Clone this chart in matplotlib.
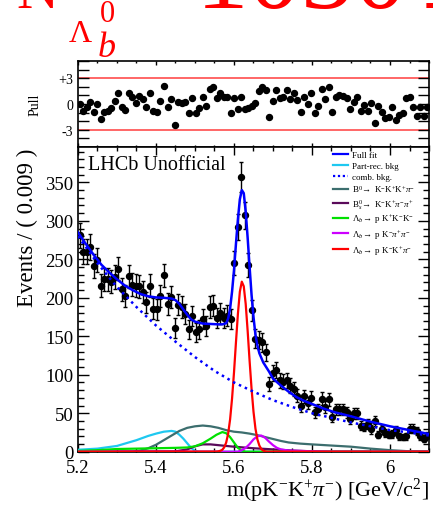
import numpy as np
import matplotlib
matplotlib.use("Agg")
import matplotlib.pyplot as plt
from matplotlib.ticker import MultipleLocator, FixedLocator
from matplotlib.lines import Line2D

plt.rcParams['font.family'] = ['Liberation Serif', 'DejaVu Serif']
plt.rcParams['mathtext.fontset'] = 'custom'
plt.rcParams['mathtext.rm'] = 'Liberation Serif'
plt.rcParams['mathtext.it'] = 'Liberation Serif:italic'
plt.rcParams['mathtext.bf'] = 'Liberation Serif:bold'

# binning: 100 bins of 0.009 GeV from 5.2 to 6.1
x_lo, x_hi, n_bins = 5.2, 6.1, 100

counts = [281, 260, 260, 266, 241, 249, 216, 224, 224, 221,
          227, 238, 211, 202, 228, 217, 216, 215, 208, 194,
          216, 186, 185, 202, 229, 192, 201, 161, 191, 188,
          179, 159, 176, 155, 159, 172, 163, 188, 190, 174,
          180, 174, 177, 172, 245, 292, 357, 307, 243, 184,
          147, 145, 142, 129, 88, 102, 106, 93, 91, 93,
          86, 82, 73, 59, 72, 63, 70, 51, 55, 69,
          58, 68, 45, 55, 55, 55, 51, 43, 50, 50,
          34, 32, 36, 29, 40, 22, 29, 24, 22, 23,
          28, 20, 19, 20, 30, 30, 27, 20, 17, 21]

pulls = [0.0, -0.78, -0.31, 0.27, -0.89, 0.0, -1.79, -0.97, -0.78, -0.43,
         0.31, 1.32, -0.31, -0.70, 1.32, 0.86, 0.08, 0.93, 0.58, -0.39,
         1.32, -0.82, -0.97, 0.35, 2.14, -0.31, 0.54, -2.45, 0.27, 0.08,
         0.23, -1.09, 0.66, -1.01, -0.51, 0.78, -0.19, 1.75, 1.95, 0.74,
         1.32, 0.86, 0.86, -1.09, 0.66, -0.58, 0.86, -0.58, -0.43, -0.23,
         0.08, 1.52, 2.02, 1.63, -1.48, 0.39, 1.63, 0.74, 0.86, 1.63,
         0.62, 1.25, 0.43, -0.97, 0.86, -0.04, 1.25, -1.01, -0.23, 1.75,
         0.54, 1.95, -0.97, 0.86, 1.01, 0.97, 0.74, -0.54, 0.19, 0.82,
         -0.82, -0.12, -0.82, 0.16, -2.26, -0.23, -0.89, -1.67, -1.48, -0.39,
         -1.87, -1.28, -1.09, 0.66, 0.78, -0.31, -1.40, -0.31, -1.40, -0.31]

# fit curves
full_x = [5.20, 5.22, 5.24, 5.26, 5.28, 5.30, 5.32, 5.34, 5.36, 5.38,
          5.40, 5.42, 5.44, 5.45, 5.46, 5.47, 5.48, 5.49, 5.50, 5.52,
          5.54, 5.56, 5.57, 5.58, 5.585, 5.59, 5.595, 5.60, 5.605, 5.61,
          5.615, 5.62, 5.625, 5.63, 5.635, 5.64, 5.645, 5.65, 5.655, 5.66,
          5.665, 5.67, 5.675, 5.68, 5.69, 5.70, 5.72, 5.74, 5.76, 5.78,
          5.80, 5.83, 5.86, 5.90, 5.95, 6.00, 6.05, 6.10]
full_y = [285, 270, 256, 243, 233, 224, 216, 210, 205, 202,
          200.5, 200, 199, 197, 192, 185, 178, 172, 169, 166.5,
          166, 165.5, 165.5, 167, 173, 186, 208, 236, 270, 302,
          328, 340, 336, 312, 278, 240, 204, 175, 152, 138,
          128, 122, 116, 112, 104, 95, 86, 78, 71, 66,
          62, 56, 51, 46, 39, 33, 28, 23]

comb_x = [5.20, 5.25, 5.30, 5.35, 5.40, 5.45, 5.50, 5.55, 5.60, 5.65,
          5.70, 5.75, 5.80, 5.85, 5.90, 5.95, 6.00, 6.05, 6.10]
comb_y = [280, 245, 214, 188, 164, 143, 123, 105, 90, 78,
          67, 58, 50, 44, 38, 33, 28, 25, 21]

partrec_x = [5.20, 5.25, 5.30, 5.35, 5.38, 5.40, 5.42, 5.44, 5.45, 5.46,
             5.47, 5.48, 5.49, 5.50, 5.51, 6.10]
partrec_y = [2.5, 4, 7.5, 15, 20.5, 23.5, 26, 27, 26, 22,
             17, 11, 5, 1, 0, 0]

b0_x = [5.20, 5.34, 5.36, 5.38, 5.40, 5.42, 5.44, 5.46, 5.48, 5.50,
        5.52, 5.54, 5.56, 5.58, 5.60, 5.62, 5.64, 5.66, 5.68, 5.70,
        5.72, 5.74, 5.77, 5.80, 5.85, 5.90, 5.95, 6.00, 6.05, 6.10]
b0_y = [0, 0, 1.5, 4.5, 9, 15, 21, 27, 31, 33,
        34, 33, 31, 28, 26, 25, 23.5, 21.5, 19, 16.5,
        14, 12, 10.5, 9.5, 8, 6.5, 4, 2, 0.5, 0]

bs_x = [5.20, 5.45, 5.48, 5.50, 5.52, 5.54, 5.56, 5.60, 5.65, 5.70,
        5.75, 5.80, 5.85, 6.10]
bs_y = [0, 0.5, 3, 7, 9.5, 9.5, 8.5, 6.5, 4.5, 3,
        1.5, 0.5, 0, 0]

lbkkk_x = [5.20, 5.25, 5.30, 5.35, 5.40, 5.45, 5.48, 5.50, 5.52, 5.54,
           5.555, 5.57, 5.58, 5.59, 5.60, 5.61, 5.62, 5.63, 6.10]
lbkkk_y = [1, 2, 3.5, 4, 4.5, 5, 5.5, 7, 11, 17,
           22, 25.5, 24, 19, 12, 5, 1.5, 0, 0]

lbkpp_x = [5.20, 5.61, 5.62, 5.63, 5.64, 5.65, 5.66, 5.67, 5.68, 5.69,
           5.70, 5.71, 5.72, 5.74, 5.77, 5.80, 5.85, 6.10]
lbkpp_y = [0, 0, 2, 5, 10, 16, 20, 21, 18, 13,
           8.5, 5, 3, 1.5, 1, 0.5, 0, 0]

sig_x = [5.20, 5.555, 5.56, 5.565, 5.57, 5.575, 5.58, 5.585, 5.59, 5.595,
         5.60, 5.605, 5.61, 5.615, 5.62, 5.625, 5.63, 5.635, 5.64, 5.645,
         5.65, 5.655, 5.66, 5.665, 5.67, 5.675, 5.68, 5.685, 6.10]
sig_y = [0, 0.2, 0.5, 1.2, 2.5, 5.7, 12, 23.5, 42, 69,
         103, 142, 179, 208, 221, 215, 192, 157, 118, 82,
         52, 30, 16, 8, 3.5, 1.4, 0.5, 0.1, 0]

components = [
    (partrec_x, partrec_y, '#1ec8f0', 'Part-rec. bkg'),
    (b0_x, b0_y, '#3c6e6e', r'B$^{0}\!\rightarrow$ K$^{-}$K$^{+}$K$^{+}\pi^{-}$'),
    (bs_x, bs_y, '#5a0a5a', r'B$^{0}_{s}\!\rightarrow$ K$^{-}$K$^{+}\pi^{-}\pi^{+}$'),
    (lbkkk_x, lbkkk_y, '#00e000', r'$\Lambda_{b}\!\rightarrow$ p K$^{+}$K$^{-}$K$^{-}$'),
    (lbkpp_x, lbkpp_y, '#cc00ff', r'$\Lambda_{b}\!\rightarrow$ p K$^{-}\pi^{+}\pi^{-}$'),
    (sig_x, sig_y, '#ff0000', r'$\Lambda_{b}\!\rightarrow$ p K$^{-}$K$^{+}\pi^{-}$'),
]

edges = np.linspace(x_lo, x_hi, n_bins + 1)
centers = 0.5 * (edges[:-1] + edges[1:])
counts = np.array(counts, dtype=float)
errs = np.sqrt(counts)

fig = plt.figure(figsize=(4.33, 5.06), dpi=100)
W, H = 433.0, 506.0
left, right = 78 / W, 429 / W
ax_p = fig.add_axes([left, 1 - 148 / H, right - left, 86 / H])
ax = fig.add_axes([left, 1 - 452.7 / H, right - left, 304.7 / H])

# pull panel
ax_p.axhline(3, color='#ff5a5a', lw=1.3, zorder=1)
ax_p.axhline(-3, color='#ff5a5a', lw=1.3, zorder=1)
ax_p.plot(centers, pulls, 'o', color='black', ms=4.3, zorder=3)
ax_p.set_xlim(x_lo, x_hi)
ax_p.set_ylim(-5, 5)
ax_p.yaxis.set_major_locator(FixedLocator([-3, 0, 3]))
ax_p.set_yticklabels(['-3', '0', '+3'])
ax_p.yaxis.set_minor_locator(MultipleLocator(1))
ax_p.xaxis.set_major_locator(MultipleLocator(0.2))
ax_p.xaxis.set_minor_locator(MultipleLocator(0.05))
ax_p.tick_params(axis='x', which='both', direction='in', top=True, bottom=True,
                 labelbottom=False)
ax_p.tick_params(axis='x', which='major', length=3, width=1)
ax_p.tick_params(axis='x', which='minor', length=1.5, width=1)
ax_p.tick_params(axis='y', which='both', direction='in', left=True, right=True,
                 length=8, width=1, labelsize=10)
ax_p.set_ylabel('Pull', fontsize=10)
ax_p.yaxis.set_label_coords(-0.105, 0.5)

# main panel
ax.errorbar(centers, counts, yerr=errs, fmt='o', color='black', ms=4.3,
            elinewidth=1, capsize=1.5, capthick=1, zorder=2)
for cx, cy, col, lab in components:
    ax.plot(cx, cy, color=col, lw=1.6, zorder=3)
ax.plot(comb_x, comb_y, color='#0000ff', ls=(0, (1, 1.6)), lw=1.8, zorder=3)
ax.plot(full_x, full_y, color='#0000ff', lw=1.8, zorder=4)

ax.set_xlim(x_lo, x_hi)
ax.set_ylim(0, 396)
ax.xaxis.set_major_locator(FixedLocator([5.2, 5.4, 5.6, 5.8, 6.0]))
ax.set_xticklabels(['5.2', '5.4', '5.6', '5.8', '6'])
ax.xaxis.set_minor_locator(MultipleLocator(0.05))
ax.yaxis.set_major_locator(MultipleLocator(50))
ax.yaxis.set_minor_locator(MultipleLocator(10))
ax.tick_params(which='both', direction='in', top=True, right=True, width=1,
               labelsize=13.5)
ax.tick_params(axis='y', which='major', length=8)
ax.tick_params(axis='y', which='minor', length=4)
ax.tick_params(axis='x', which='major', length=6, pad=5)
ax.tick_params(axis='x', which='minor', length=3)
for a in (ax, ax_p):
    for s in a.spines.values():
        s.set_linewidth(1.2)

ax.text(0.028, 0.975, 'LHCb Unofficial', transform=ax.transAxes,
        fontsize=14.5, va='top', ha='left')

handles = [Line2D([], [], color='#0000ff', lw=1.6),
           Line2D([], [], color='#1ec8f0', lw=1.6),
           Line2D([], [], color='#0000ff', lw=1.6, ls=(0, (1, 1.2)))]
labels = ['Full fit', 'Part-rec. bkg', 'comb. bkg.']
for cx, cy, col, lab in components[1:]:
    handles.append(Line2D([], [], color=col, lw=1.6))
    labels.append(lab)
ax.legend(handles, labels, loc='upper left', bbox_to_anchor=(0.71, 1.005),
          fontsize=6.5, frameon=False, handlelength=1.7, handletextpad=0.4,
          labelspacing=0.28, borderaxespad=0.2)

fig.text(27 / W, 1 - 149 / H, 'Events / ( 0.009 )', rotation=90,
         ha='center', va='top', fontsize=16.5)
fig.text(429 / W, 1 - 497 / H, r'm(pK$^{-}$K$^{+}\pi^{-}$) [GeV/c$^{2}$]',
         ha='right', va='baseline', fontsize=16)

# red yield label, cut by the top edge
red = '#ff0000'
fig.text(16 / W, 1 - 8 / H, r'$\mathrm{N}$', color=red, fontsize=42,
         ha='left', va='baseline')
fig.text(68 / W, 1 - 42 / H, r'$\Lambda$', color=red, fontsize=23,
         ha='left', va='baseline')
fig.text(97 / W, 1 - 57 / H, r'$b$', color=red, fontsize=26,
         ha='left', va='baseline')
fig.text(99 / W, 1 - 22 / H, r'$0$', color=red, fontsize=22,
         ha='left', va='baseline')
fig.text(195 / W, 1 - 8 / H, r'$1030\pm3$', color=red, fontsize=76,
         ha='left', va='baseline')

fig.savefig('out.png', dpi=100)
